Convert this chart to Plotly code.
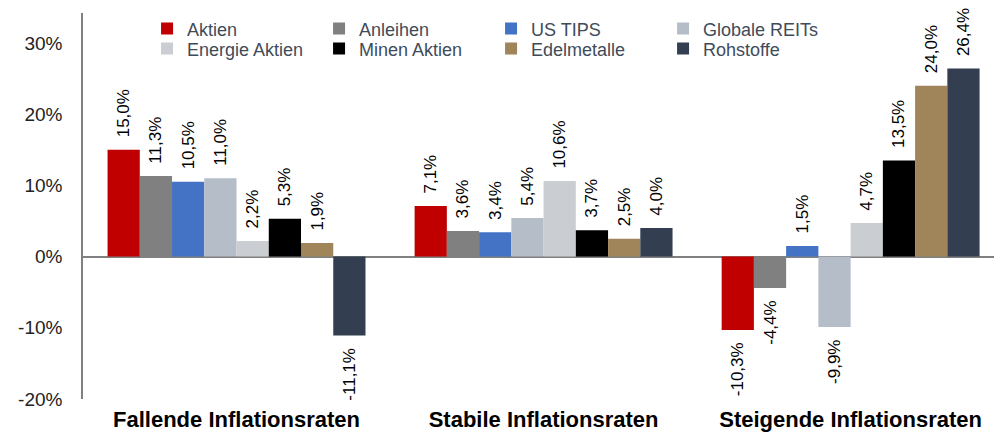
import plotly.graph_objects as go

categories = ["Fallende Inflationsraten", "Stabile Inflationsraten", "Steigende Inflationsraten"]
series_names = ["Aktien", "Anleihen", "US TIPS", "Globale REITs",
                "Energie Aktien", "Minen Aktien", "Edelmetalle", "Rohstoffe"]
aktien = [15.0, 7.1, -10.3]
anleihen = [11.3, 3.6, -4.4]
us_tips = [10.5, 3.4, 1.5]
globale_reits = [11.0, 5.4, -9.9]
energie_aktien = [2.2, 10.6, 4.7]
minen_aktien = [5.3, 3.7, 13.5]
edelmetalle = [1.9, 2.5, 24.0]
rohstoffe = [-11.1, 4.0, 26.4]
series_values = [aktien, anleihen, us_tips, globale_reits,
                 energie_aktien, minen_aktien, edelmetalle, rohstoffe]
colors = ["#C00000", "#808080", "#4472C4", "#B5BDC9",
          "#CACDD1", "#000000", "#A0855B", "#333F50"]
y_ticks = [-20, -10, 0, 10, 20, 30]
y_tick_labels = ["-20%", "-10%", "0%", "10%", "20%", "30%"]

FONT = "Arial, Liberation Sans, sans-serif"
PAD = "\u00a0\u00a0"

fig = go.Figure()
for i, (name, vals, col) in enumerate(zip(series_names, series_values, colors)):
    templates = [PAD + "%{y:.1f}%" if v >= 0 else "%{y:.1f}%" + PAD for v in vals]
    fig.add_trace(go.Bar(
        name=name, x=categories, y=vals,
        marker=dict(color=col, line=dict(width=0)),
        texttemplate=templates, textposition="outside", textangle=-90,
        textfont=dict(family=FONT, size=17, color="#000000"),
        constraintext="none", cliponaxis=False,
        legend="legend" if i < 4 else "legend2",
    ))

legend_common = dict(
    orientation="h", xanchor="left", yanchor="top",
    entrywidth=127, entrywidthmode="pixels",
    font=dict(family=FONT, size=18, color="#404B5A"),
    bgcolor="rgba(0,0,0,0)", traceorder="normal",
    itemclick=False, tracegroupgap=0,
)

# page body has an 8px default margin; compensate so the chart sits at the top-left
fig.update_layout(
    width=994, height=429,
    margin=dict(l=75, r=0, t=5, b=38, autoexpand=False),
    paper_bgcolor="white", plot_bgcolor="white",
    barmode="group", bargap=0.16, bargroupgap=0,
    separators=",.",
    font=dict(family=FONT, color="#222222"),
    showlegend=True,
    legend=dict(x=0.0697, y=1.007, **legend_common),
    legend2=dict(x=0.0697, y=0.955, **legend_common),
    xaxis=dict(
        range=[-0.5, 2.493], showline=False, showgrid=False, ticks="",
        tickfont=dict(family=FONT, size=22, color="#000000", weight="bold"),
        ticklabelstandoff=5, automargin=False,
    ),
    yaxis=dict(
        range=[-20, 34.2], tickvals=y_ticks, ticktext=y_tick_labels,
        showline=True, linecolor="#808080", linewidth=1.5,
        showgrid=False, zeroline=True, zerolinecolor="#808080", zerolinewidth=1.5,
        ticks="", ticklabelstandoff=15, automargin=False,
        tickfont=dict(family=FONT, size=19, color="#222222"),
    ),
)

fig.write_html("out.html")
